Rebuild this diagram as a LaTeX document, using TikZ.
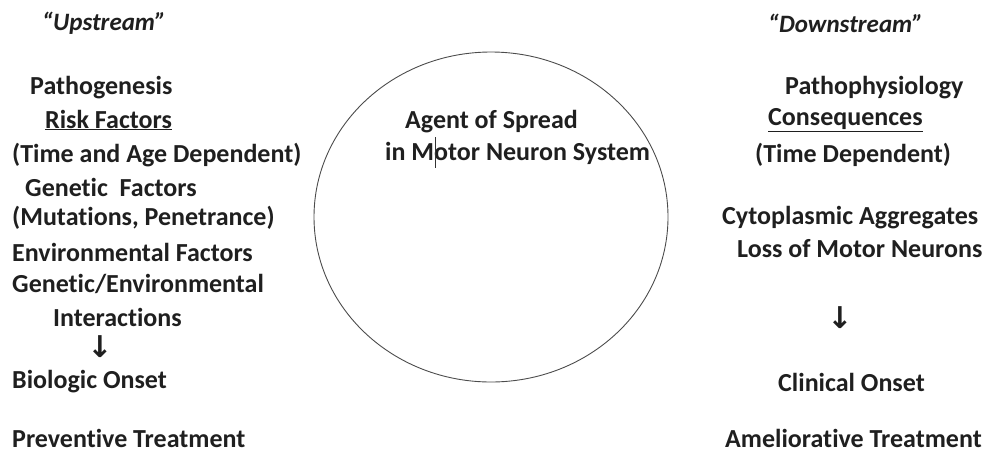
\documentclass[tikz,border=0pt]{standalone}
\usepackage{fontspec}
\setmainfont[Ligatures={TeX,NoCommon}]{Carlito}
\newfontfamily\arrowfont{DejaVu Sans}
\usetikzlibrary{shapes.geometric}
\begin{document}
\begin{tikzpicture}[x=1pt,y=-1pt,
  txt/.style={anchor=west, inner sep=0pt, text=black!88, font=\fontsize{26}{30}\selectfont\bfseries},
  hdr/.style={anchor=west, inner sep=0pt, text=black!88, font=\fontsize{25}{29}\selectfont\bfseries\itshape},
  arr/.style={inner sep=0pt, text=black!88, font=\fontsize{30}{32}\selectfont\arrowfont\bfseries},
  spreadshape/.style={ellipse, draw=black!70, line width=0.9pt, inner sep=0pt}]
\useasboundingbox (0,0) rectangle (988,459);
% left column
\node[hdr] (up) at (42,23) {“Upstream”};
\node[txt] (l1) at (30,88) {Pathogenesis};
\node[txt] (l2) at (45,120) {\underline{Risk Factors}};
\node[txt] (l3) at (12,155) {(Time and Age Dependent)};
\node[txt] (l4) at (25,187) {Genetic\ \ Factors};
\node[txt] (l5) at (12,218) {(Mutations, Penetrance)};
\node[txt] (l6) at (12,252) {Environmental Factors};
\node[txt] (l7) at (12,284) {Genetic/Environmental};
\node[txt] (l8) at (53,317) {Interactions};
\node[arr] (la) at (100,347) {↓};
\node[txt] (l9) at (12,382) {Biologic Onset};
\node[txt] (l10) at (12,438) {Preventive Treatment};
% centre
\node[spreadshape, minimum width=354, minimum height=330] (spread) at (491,217) {};
\node[txt] (c1) at (405,122) {Agent of Spread};
\node[txt] (c2) at (385,153) {in Motor Neuron System};
\draw[black!80, line width=0.7pt] (435,137) -- (435,168);
% right column
\node[hdr] (down) at (768,23) {“Downstream”};
\node[txt] (r1) at (785,88) {Pathophysiology};
\node[txt] (r2) at (768,120) {\underline{Consequences}};
\node[txt] (r3) at (755,155) {(Time Dependent)};
\node[txt] (r4) at (722,218) {Cytoplasmic Aggregates};
\node[txt] (r5) at (737,249) {Loss of Motor Neurons};
\node[arr] (ra) at (840,318) {↓};
\node[txt] (r6) at (778,382) {Clinical Onset};
\node[txt] (r7) at (725,438) {Ameliorative Treatment};
\end{tikzpicture}
\end{document}
